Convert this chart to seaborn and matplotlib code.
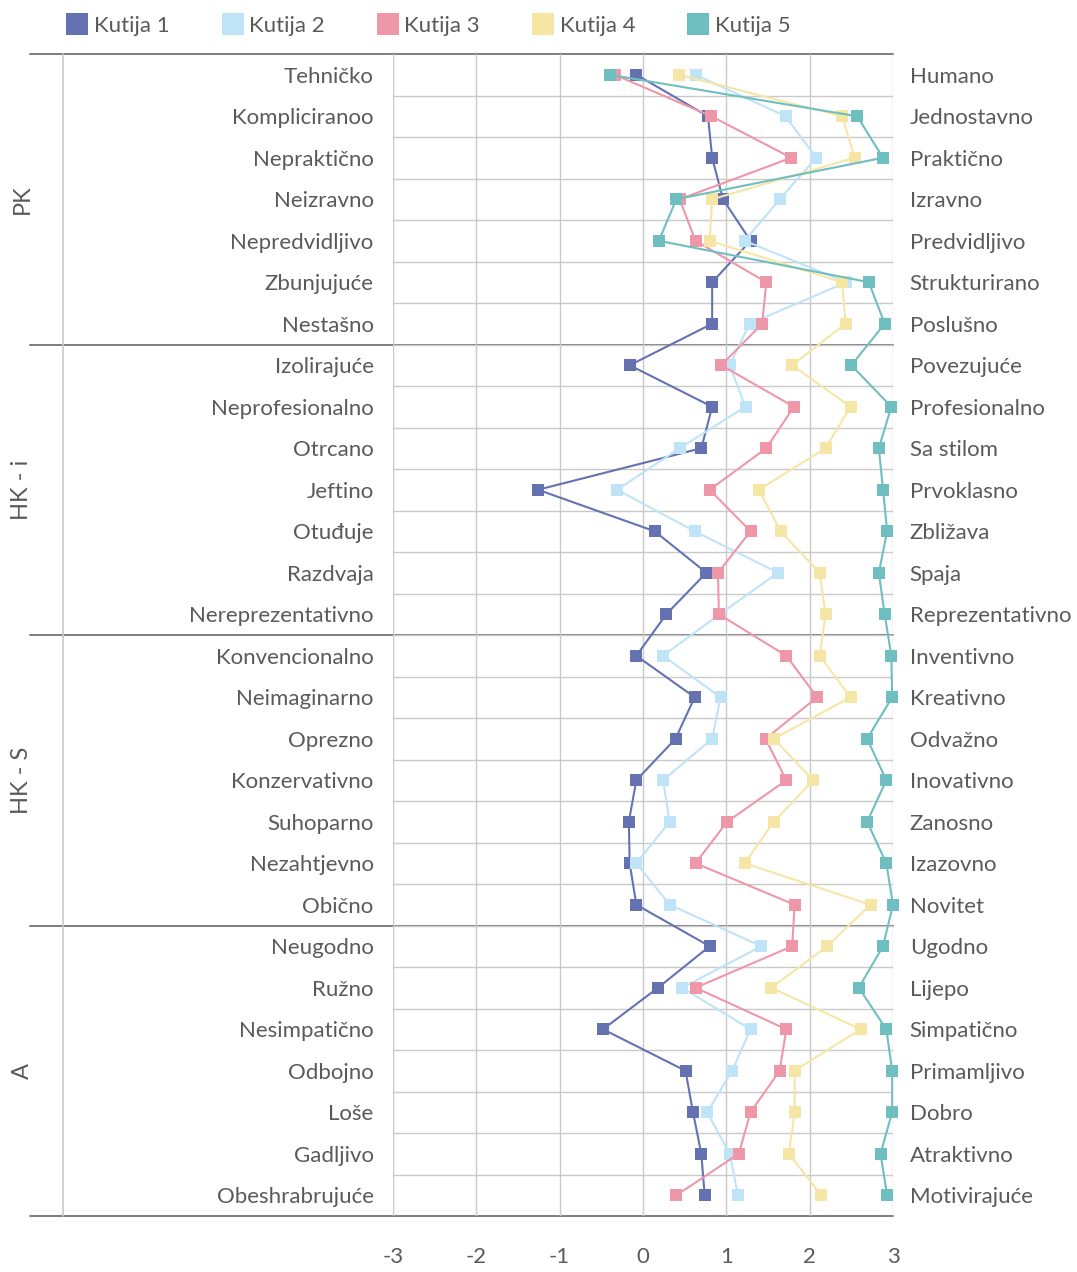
import matplotlib
matplotlib.use("Agg")
import matplotlib.pyplot as plt
import matplotlib.transforms as mtransforms
from matplotlib.lines import Line2D
import numpy as np
import pandas as pd
import seaborn as sns

# ---------------- data ----------------
left_labels = ["Tehničko", "Kompliciranoo", "Nepraktično", "Neizravno", "Nepredvidljivo",
               "Zbunjujuće", "Nestašno",
               "Izolirajuće", "Neprofesionalno", "Otrcano", "Jeftino", "Otuđuje", "Razdvaja",
               "Nereprezentativno",
               "Konvencionalno", "Neimaginarno", "Oprezno", "Konzervativno", "Suhoparno",
               "Nezahtjevno", "Obično",
               "Neugodno", "Ružno", "Nesimpatično", "Odbojno", "Loše", "Gadljivo",
               "Obeshrabrujuće"]
right_labels = ["Humano", "Jednostavno", "Praktično", "Izravno", "Predvidljivo",
                "Strukturirano", "Poslušno",
                "Povezujuće", "Profesionalno", "Sa stilom", "Prvoklasno", "Zbližava", "Spaja",
                "Reprezentativno",
                "Inventivno", "Kreativno", "Odvažno", "Inovativno", "Zanosno", "Izazovno",
                "Novitet",
                "Ugodno", "Lijepo", "Simpatično", "Primamljivo", "Dobro", "Atraktivno",
                "Motivirajuće"]
groups = ["PK", "HK - i", "HK - S", "A"]
group_sizes = [7, 7, 7, 7]
series_names = ["Kutija 1", "Kutija 2", "Kutija 3", "Kutija 4", "Kutija 5"]

kutija1 = [-0.08, 0.78, 0.83, 0.96, 1.29, 0.83, 0.83,
           -0.16, 0.83, 0.70, -1.26, 0.14, 0.76, 0.28,
           -0.08, 0.62, 0.39, -0.08, -0.17, -0.16, -0.08,
           0.80, 0.18, -0.48, 0.51, 0.60, 0.70, 0.74]
kutija2 = [0.63, 1.71, 2.08, 1.64, 1.22, 2.44, 1.28,
           1.04, 1.23, 0.44, -0.31, 0.62, 1.62, 0.92,
           0.24, 0.93, 0.83, 0.24, 0.32, -0.08, 0.32,
           1.42, 0.47, 1.29, 1.07, 0.77, 1.04, 1.14]
kutija3 = [-0.34, 0.82, 1.78, 0.44, 0.63, 1.48, 1.43,
           0.94, 1.81, 1.48, 0.80, 1.29, 0.90, 0.91,
           1.72, 2.09, 1.47, 1.72, 1.01, 0.63, 1.82,
           1.79, 0.63, 1.72, 1.64, 1.29, 1.15, 0.40]
kutija4 = [0.43, 2.39, 2.54, 0.83, 0.80, 2.39, 2.43,
           1.79, 2.49, 2.19, 1.39, 1.65, 2.12, 2.19,
           2.12, 2.49, 1.57, 2.04, 1.57, 1.22, 2.73,
           2.21, 1.54, 2.61, 1.82, 1.82, 1.75, 2.14]
kutija5 = [-0.40, 2.57, 2.88, 0.40, 0.19, 2.71, 2.90,
           2.50, 2.98, 2.83, 2.88, 2.93, 2.83, 2.90,
           2.98, 2.99, 2.69, 2.92, 2.69, 2.92, 3.00,
           2.88, 2.59, 2.92, 2.99, 2.99, 2.85, 2.93]
x_ticks = [-3, -2, -1, 0, 1, 2, 3]

colors = ["#6472b2", "#bfe3f7", "#ee97a8", "#f6e6a6", "#6fbfc0"]

# ---------------- build long-form table ----------------
all_series = [kutija1, kutija2, kutija3, kutija4, kutija5]
rows = []
for name, vals in zip(series_names, all_series):
    for i, v in enumerate(vals):
        rows.append({"Kutija": name, "row": i, "value": v})
df = pd.DataFrame(rows)

# ---------------- style ----------------
sns.set_theme(style="white")
plt.rcParams["font.family"] = ["Lato", "DejaVu Sans"]
text_color = "#5a5a5a"
grid_color = "#c9c9c9"
sep_color = "#7d7d7d"
fs = 16

fig = plt.figure(figsize=(10.77, 12.72), dpi=100)
ax = fig.add_axes([393 / 1077, 56 / 1272, 500 / 1077, 1162 / 1272])

sns.lineplot(data=df, x="value", y="row", hue="Kutija", palette=colors,
             hue_order=series_names, orient="y", sort=True, estimator=None,
             marker="s", markersize=9, markeredgewidth=0, linewidth=1.5,
             clip_on=False, legend=False, ax=ax)

n = len(left_labels)
ax.set_xlim(-3, 3)
ax.set_ylim(n - 0.5, -0.5)

# grid
ax.set_xticks(x_ticks)
ax.set_xticklabels([str(t) for t in x_ticks], fontsize=fs, color=text_color)
ax.set_yticks(range(n))
ax.set_yticklabels(left_labels, fontsize=fs, color=text_color)
ax.set_yticks([i + 0.5 for i in range(n - 1)], minor=True)
ax.tick_params(axis="x", length=0, pad=22)
ax.tick_params(axis="y", which="both", length=0, pad=14)
ax.grid(axis="x", color=grid_color, linewidth=1.0)
ax.grid(axis="y", which="minor", color=grid_color, linewidth=1.0)
ax.grid(axis="y", which="major", visible=False)
for s in ax.spines.values():
    s.set_visible(False)
ax.set_xlabel("")
ax.set_ylabel("")

# right labels
ax2 = ax.twinx()
ax2.set_ylim(ax.get_ylim())
ax2.set_yticks(range(n))
ax2.set_yticklabels(right_labels, fontsize=fs, color=text_color)
ax2.tick_params(axis="y", length=0, pad=12)
ax2.grid(False)
for s in ax2.spines.values():
    s.set_visible(False)

# group separators and frame lines extending into left margin
left_ext = (30 - 393) / 500
bounds = np.cumsum([0] + group_sizes) - 0.5
for b in bounds:
    ax.axhline(b, xmin=left_ext, xmax=1, color=sep_color, linewidth=1.4,
               clip_on=False, zorder=0.5)
vx = -3 + (63 - 393) / (500 / 6)
ax.plot([vx, vx], [bounds[0], bounds[-1]], color=grid_color, linewidth=1.2,
        clip_on=False, zorder=0.5)

# group labels
trans = mtransforms.blended_transform_factory(fig.transFigure, ax.transData)
for g, lo, hi in zip(groups, bounds[:-1], bounds[1:]):
    fig.text(22 / 1077, (lo + hi) / 2, g, transform=trans, rotation=90,
             ha="center", va="center", fontsize=fs + 1, color=text_color)

# legend
handles = [Line2D([0], [0], marker="s", linestyle="none", markersize=16,
                  markerfacecolor=c, markeredgewidth=0) for c in colors]
fig.legend(handles, series_names, loc="upper left", bbox_to_anchor=(0.044, 1.003),
           ncol=5, frameon=False, fontsize=fs, handlelength=0.9, handletextpad=0.3,
           columnspacing=2.38, labelcolor=text_color)

fig.savefig("out.png", dpi=100)
